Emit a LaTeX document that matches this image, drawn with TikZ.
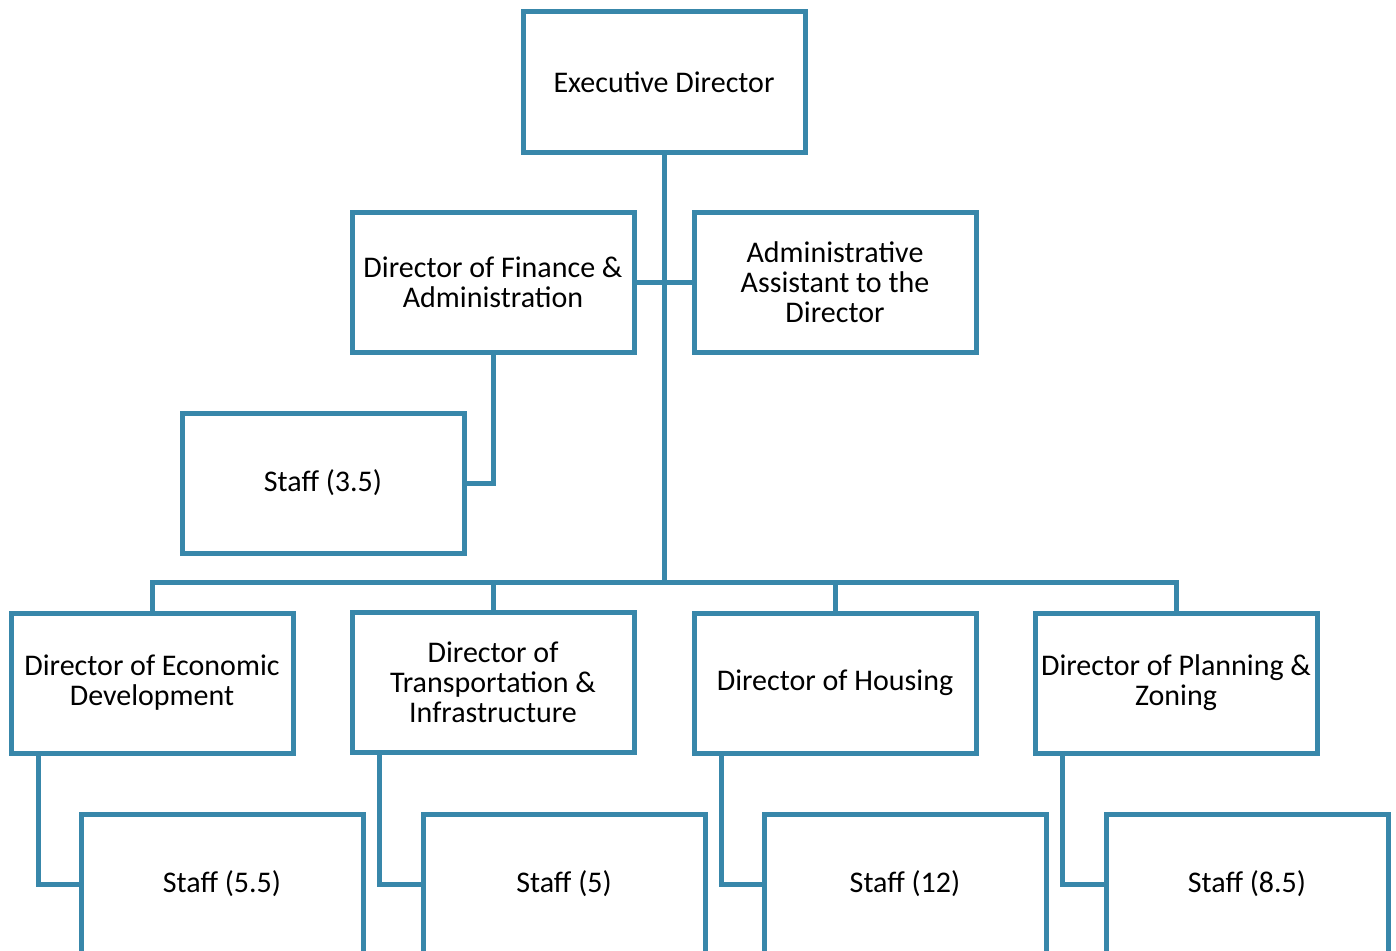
\documentclass[tikz,border=0pt]{standalone}
\usepackage{fontspec}
\setmainfont{Carlito}
\definecolor{orgblue}{RGB}{56,135,170}

\begin{document}
\begin{tikzpicture}[x=1pt,y=-1pt,
  box/.style={draw=orgblue,line width=5pt,minimum width=282pt,minimum height=140pt,inner sep=2pt,
    align=flush center,font=\fontsize{30}{30}\selectfont,text width=276pt},
  link/.style={draw=orgblue,line width=5pt}]
\useasboundingbox (0,0) rectangle (1396,950);
\node[box] (exec) at (664,82) {Executive Director};
\node[box] (fin) at (493,282) {Director of Finance \&\\Administration};
\node[box] (asst) at (835,282) {Administrative\\Assistant to the\\Director};
\node[box] (sfin) at (323,483) {Staff (3.5)};
\node[box] (econ) at (152,683) {Director of Economic\\Development};
\node[box] (trans) at (493,682) {Director of\\Transportation \&\\Infrastructure};
\node[box] (hous) at (835,683) {Director of Housing};
\node[box] (plan) at (1176,683) {Director of Planning \&\\Zoning};
\node[box] (secon) at (222,884) {Staff (5.5)};
\node[box] (strans) at (564,884) {Staff (5)};
\node[box] (shous) at (905,884) {Staff (12)};
\node[box] (splan) at (1247,884) {Staff (8.5)};
\coordinate (bus) at (664,582);
\draw[link] (exec.south) -- (bus);
\draw[link] (fin.east) -- (asst.west);
\draw[link] (fin.south) |- (sfin.east);
\draw[link] (econ.north) |- (bus) -| (plan.north);
\draw[link] (trans.north) -- (trans.north |- bus);
\draw[link] (hous.north) -- (hous.north |- bus);
\foreach \d/\s in {econ/secon,trans/strans,hous/shous,plan/splan}
  \draw[link] ([xshift=30pt]\d.south west) |- (\s.west);
\end{tikzpicture}
\end{document}
